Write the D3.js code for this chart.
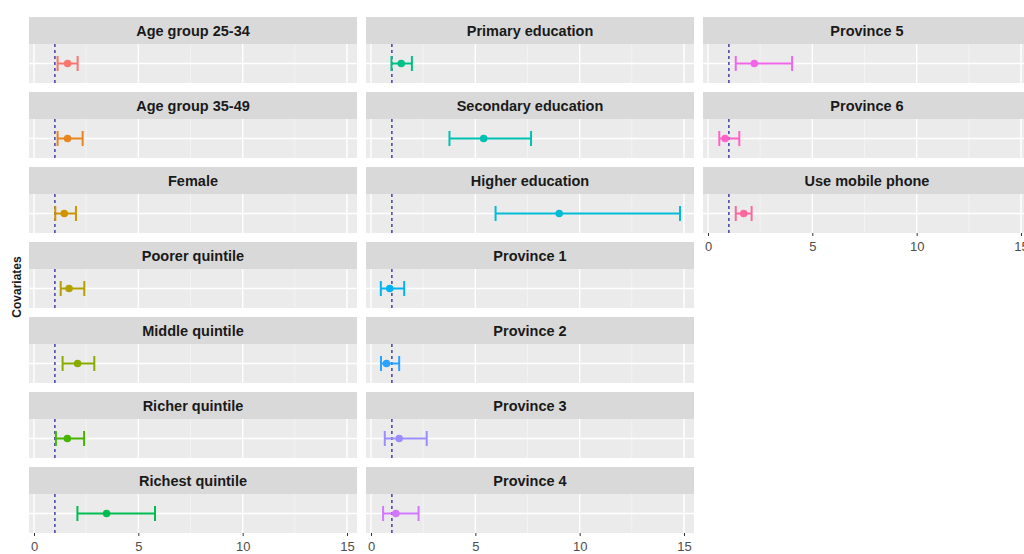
<!DOCTYPE html>
<html>
<head>
<meta charset="utf-8">
<script src="https://cdn.jsdelivr.net/npm/d3@7"></script>
<style>
  html, body { margin: 0; padding: 0; background: #ffffff; }
  svg { display: block; font-family: "Liberation Sans", Arial, sans-serif; }
</style>
</head>
<body>
<svg id="chart" width="1024" height="554"></svg>
<script>
// Odds ratios with 95% confidence intervals, one facet per covariate
const covariates = [
  "Age group 25-34", "Age group 35-49", "Female",
  "Poorer quintile", "Middle quintile", "Richer quintile", "Richest quintile",
  "Primary education", "Secondary education", "Higher education",
  "Province 1", "Province 2", "Province 3", "Province 4",
  "Province 5", "Province 6", "Use mobile phone"
];
const oddsRatio = [1.61, 1.61, 1.45, 1.68, 2.09, 1.60, 3.48, 1.45, 5.40, 9.02, 0.90, 0.74, 1.35, 1.19, 2.22, 0.82, 1.71];
const lowerCI   = [1.13, 1.13, 1.02, 1.28, 1.37, 1.05, 2.08, 0.98, 3.76, 5.97, 0.47, 0.48, 0.66, 0.58, 1.33, 0.54, 1.33];
const upperCI   = [2.09, 2.33, 2.01, 2.41, 2.89, 2.40, 5.80, 1.96, 7.67, 14.81, 1.59, 1.35, 2.67, 2.28, 4.03, 1.50, 2.09];
const xTicks = [0, 5, 10, 15];
const xMinorTicks = [2.5, 7.5, 12.5];
const referenceLine = 1;
const yTitle = "Covariates";

const data = covariates.map((name, i) => ({
  name, or: oddsRatio[i], lo: lowerCI[i], hi: upperCI[i], i
}));

// ggplot-style hue palette: polar LUV colours at L=65, C=100
function hclLuv(h, c, l) {
  const hr = h * Math.PI / 180;
  const u = c * Math.cos(hr), v = c * Math.sin(hr);
  const Xn = 95.047, Yn = 100, Zn = 108.883;
  const den = Xn + 15 * Yn + 3 * Zn;
  const un = 4 * Xn / den, vn = 9 * Yn / den;
  const Y = l > 8 ? Yn * Math.pow((l + 16) / 116, 3) : Yn * l / 903.3;
  const up = u / (13 * l) + un, vp = v / (13 * l) + vn;
  const X = 9 * Y * up / (4 * vp);
  const Z = Y * (12 - 3 * up - 20 * vp) / (4 * vp);
  const x = X / 100, y = Y / 100, z = Z / 100;
  let r = 3.240479 * x - 1.537150 * y - 0.498535 * z;
  let g = -0.969256 * x + 1.875992 * y + 0.041556 * z;
  let b = 0.055648 * x - 0.204043 * y + 1.057311 * z;
  const gam = t => {
    t = t <= 0.0031308 ? 12.92 * t : 1.055 * Math.pow(t, 1 / 2.4) - 0.055;
    return Math.round(Math.max(0, Math.min(1, t)) * 255);
  };
  return d3.rgb(gam(r), gam(g), gam(b)).formatHex();
}
const n = covariates.length;
const palette = d3.range(n).map(i => hclLuv(15 + i * 360 / n, 100, 65));
const colour = d3.scaleOrdinal().domain(covariates).range(palette);

// Facet layout: wrapped into columns of seven panels
const nrow = 7;
const facetLeft = [29, 366, 703];
const facetWidth = 328;
const top0 = 17, rowPitch = 75, stripH = 27, panelH = 39;

const svg = d3.select("#chart");

data.forEach(d => {
  d.col = Math.floor(d.i / nrow);
  d.row = d.i % nrow;
});

const colCount = d3.max(data, d => d.col) + 1;

for (let c = 0; c < colCount; c++) {
  const x = d3.scaleLinear()
    .domain([-0.24, 15.48])
    .range([facetLeft[c], facetLeft[c] + facetWidth]);
  const panels = data.filter(d => d.col === c);

  panels.forEach(d => {
    const stripTop = top0 + d.row * rowPitch;
    const pTop = stripTop + stripH;
    const y = d3.scaleBand().domain([d.name]).range([pTop, pTop + panelH]).padding(0);
    const yc = y(d.name) + y.bandwidth() / 2;
    const g = svg.append("g");

    // strip
    g.append("rect")
      .attr("x", x.range()[0]).attr("y", stripTop)
      .attr("width", facetWidth).attr("height", stripH)
      .attr("fill", "#d9d9d9");
    g.append("text")
      .attr("x", (x.range()[0] + x.range()[1]) / 2)
      .attr("y", stripTop + stripH / 2 + 5.5)
      .attr("text-anchor", "middle")
      .attr("font-size", 14.5).attr("font-weight", "bold")
      .attr("fill", "#1a1a1a")
      .text(d.name);

    // panel background and grid
    g.append("rect")
      .attr("x", x.range()[0]).attr("y", pTop)
      .attr("width", facetWidth).attr("height", panelH)
      .attr("fill", "#ebebeb");
    g.selectAll(".minor").data(xMinorTicks).join("line")
      .attr("x1", t => x(t)).attr("x2", t => x(t))
      .attr("y1", pTop).attr("y2", pTop + panelH)
      .attr("stroke", "#f7f7f7").attr("stroke-width", 0.7);
    g.selectAll(".major").data(xTicks).join("line")
      .attr("x1", t => x(t)).attr("x2", t => x(t))
      .attr("y1", pTop).attr("y2", pTop + panelH)
      .attr("stroke", "#ffffff").attr("stroke-width", 1.4);
    g.append("line")
      .attr("x1", x.range()[0]).attr("x2", x.range()[1])
      .attr("y1", yc).attr("y2", yc)
      .attr("stroke", "#ffffff").attr("stroke-width", 1.4);

    // reference line at OR = 1
    g.append("line")
      .attr("x1", x(referenceLine)).attr("x2", x(referenceLine))
      .attr("y1", pTop).attr("y2", pTop + panelH)
      .attr("stroke", "#4b4ba6").attr("stroke-width", 1.6)
      .attr("stroke-dasharray", "3,3");

    // error bar and point
    const col = colour(d.name);
    const capH = 15;
    g.append("line")
      .attr("x1", x(d.lo)).attr("x2", x(d.hi))
      .attr("y1", yc).attr("y2", yc)
      .attr("stroke", col).attr("stroke-width", 2);
    [d.lo, d.hi].forEach(v => {
      g.append("line")
        .attr("x1", x(v)).attr("x2", x(v))
        .attr("y1", yc - capH / 2).attr("y2", yc + capH / 2)
        .attr("stroke", col).attr("stroke-width", 2);
    });
    g.append("circle")
      .attr("cx", x(d.or)).attr("cy", yc).attr("r", 3.8)
      .attr("fill", col);
  });

  // x axis below the last panel of the column
  const last = d3.max(panels, d => d.row);
  const axisY = top0 + last * rowPitch + stripH + panelH;
  const axis = svg.append("g")
    .attr("transform", `translate(0,${axisY})`)
    .call(d3.axisBottom(x).tickValues(xTicks).tickFormat(d3.format("d")).tickSize(3).tickPadding(6));
  axis.select(".domain").remove();
  axis.selectAll(".tick line").attr("stroke", "#333333");
  axis.selectAll(".tick text")
    .attr("font-size", 13).attr("fill", "#4d4d4d")
    .attr("font-family", "Liberation Sans, Arial, sans-serif");
}

// y axis title
svg.append("text")
  .attr("transform", "translate(21,287) rotate(-90)")
  .attr("text-anchor", "middle")
  .attr("font-size", 12).attr("font-weight", "bold")
  .attr("fill", "#1a1a1a")
  .text(yTitle);
</script>
</body>
</html>
